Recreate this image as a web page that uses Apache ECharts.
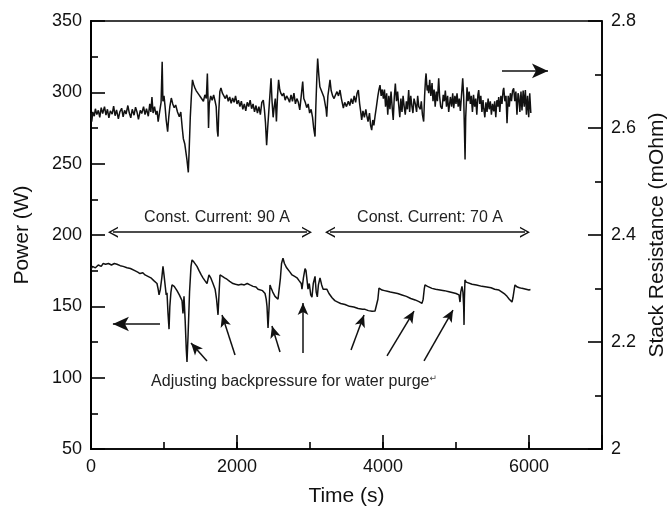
<!DOCTYPE html>
<html>
<head>
<meta charset="utf-8">
<script src="https://cdn.jsdelivr.net/npm/echarts@6/dist/echarts.min.js"></script>
<style>html,body{margin:0;padding:0;background:#fff}#c{width:669px;height:509px}</style>
</head>
<body>
<div id="c"></div>
<script>
// ---- DATA ----
const xTicks = [0, 2000, 4000, 6000];
const powerTicks = [50, 100, 150, 200, 250, 300, 350];
const resTicks = [2, 2.2, 2.4, 2.6, 2.8];

// Power (W) vs time (s)
const powerData = [
[0,176],[20,178],[60,177],[100,179],[140,178],[165,180],[200,179.5],[240,180],[280,179],[320,180],
[356,179.5],[400,178.5],[440,178],[493,177],[540,176.5],[600,175],[640,174],[671,173],[710,173.5],[740,172],
[780,171],[820,170],[860,168],[904,166],[920,162],[932,158],[950,162],[970,170],[986,178],[1000,172],
[1015,165],[1030,158],[1041,159.5],[1055,145],[1069,134],[1080,150],[1095,160],[1110,165],[1140,164],[1178,161],
[1210,158],[1247,154],[1260,145],[1274,157],[1290,140],[1305,120],[1315,111],[1330,130],[1350,160],[1370,178],
[1384,182.5],[1410,181],[1430,180],[1452,178],[1480,175],[1510,172],[1534,170],[1560,168],[1589,166],[1616,172],
[1640,170],[1671,166],[1700,162],[1720,155],[1740,144],[1755,160],[1767,172],[1800,171],[1830,170],[1862,169],
[1900,167.5],[1945,166],[1980,165.5],[2020,165],[2060,165.5],[2100,165],[2140,166],[2178,165],[2220,164],[2260,163.5],
[2288,162],[2315,163],[2350,161],[2384,159],[2400,155],[2411,150],[2425,134.8],[2440,150],[2452,165],[2466,163],
[2490,160],[2521,157],[2545,158],[2562,155],[2576,156],[2595,170],[2610,180],[2630,183.8],[2650,180],[2680,177],
[2726,174],[2754,172],[2790,171],[2822,170],[2850,168],[2880,166],[2890,162],[2910,170],[2932,176.5],[2945,175],
[2960,168],[2973,162],[2990,166],[3010,158],[3027,156.5],[3045,166],[3069,171],[3085,160],[3100,156.6],[3115,165],
[3137,170],[3160,165],[3180,162],[3206,161],[3230,162],[3260,159],[3302,156],[3340,154],[3380,153],[3420,152],
[3480,151.3],[3540,150],[3600,149.5],[3660,148.5],[3720,148],[3754,147.9],[3800,147],[3850,146.5],[3891,146.7],[3915,148],
[3930,155],[3945,162.8],[3970,162],[3987,161.4],[4020,161],[4060,160.5],[4100,160],[4150,159.5],[4200,159],[4260,158],
[4320,157],[4380,155.5],[4440,154.5],[4493,153.3],[4534,152.1],[4550,155],[4565,162],[4575,165],[4610,164],[4671,162.6],
[4720,162],[4780,161.5],[4840,161],[4904,160.2],[4960,159.5],[5000,159],[5041,158],[5055,153],[5065,160],[5082,164],
[5095,160],[5105,150],[5110,137],[5115,155],[5123,168.5],[5140,167],[5164,166],[5220,165.5],[5280,165],[5356,164],
[5420,163.5],[5480,163],[5530,162],[5589,161.4],[5630,160],[5670,158.5],[5699,157],[5730,155],[5767,153],[5780,156],
[5795,161],[5808,165],[5840,163.5],[5870,163],[5904,162.6],[5930,163],[5960,162],[5980,162.5],[6000,161.5],[6020,161.8]
];

// Stack resistance (mOhm) vs time (s)
const resistanceData = [
[0,2.628],[10,2.612],[25,2.630],[45,2.622],[60,2.636],[80,2.625],[100,2.633],[120,2.620],[140,2.638],[160,2.627],
[185,2.640],[205,2.624],[225,2.635],[245,2.619],[265,2.632],[290,2.626],[310,2.641],[330,2.623],[350,2.634],[375,2.617],
[395,2.630],[420,2.637],[440,2.621],[460,2.633],[480,2.626],[505,2.642],[525,2.628],[545,2.619],[565,2.635],[590,2.624],
[610,2.639],[630,2.630],[650,2.616],[675,2.633],[695,2.627],[720,2.640],[740,2.625],[760,2.636],[785,2.622],[805,2.645],
[820,2.630],[835,2.658],[850,2.628],[870,2.640],[890,2.625],[905,2.632],[920,2.612],[940,2.630],[960,2.648],[975,2.724],
[985,2.650],[1000,2.660],[1015,2.640],[1030,2.615],[1050,2.593],[1065,2.620],[1080,2.640],[1100,2.656],[1120,2.645],[1140,2.638],
[1160,2.643],[1185,2.630],[1210,2.621],[1230,2.630],[1250,2.600],[1265,2.580],[1285,2.570],[1300,2.555],[1315,2.540],[1333,2.517],
[1345,2.560],[1360,2.620],[1375,2.660],[1390,2.690],[1405,2.682],[1420,2.676],[1440,2.670],[1460,2.672],[1480,2.662],[1500,2.658],
[1520,2.655],[1540,2.650],[1560,2.662],[1580,2.655],[1594,2.702],[1602,2.660],[1610,2.600],[1620,2.645],[1640,2.660],[1660,2.652],
[1680,2.662],[1700,2.650],[1715,2.640],[1730,2.595],[1740,2.584],[1750,2.630],[1765,2.668],[1780,2.675],[1800,2.665],[1820,2.660],
[1840,2.655],[1860,2.662],[1880,2.650],[1900,2.658],[1920,2.646],[1940,2.656],[1960,2.648],[1980,2.660],[2000,2.645],[2020,2.652],
[2040,2.640],[2060,2.650],[2080,2.635],[2100,2.645],[2120,2.632],[2140,2.648],[2160,2.640],[2180,2.652],[2200,2.636],[2220,2.645],
[2240,2.630],[2260,2.642],[2280,2.628],[2300,2.640],[2320,2.625],[2340,2.648],[2360,2.652],[2375,2.635],[2390,2.610],[2406,2.568],
[2420,2.600],[2440,2.640],[2455,2.670],[2466,2.693],[2480,2.650],[2495,2.620],[2510,2.640],[2525,2.655],[2540,2.612],[2555,2.660],
[2570,2.690],[2585,2.672],[2600,2.665],[2620,2.660],[2640,2.665],[2660,2.652],[2680,2.660],[2700,2.655],[2720,2.648],[2740,2.662],
[2760,2.650],[2780,2.665],[2800,2.645],[2820,2.655],[2840,2.648],[2860,2.634],[2880,2.660],[2900,2.687],[2915,2.655],[2935,2.648],
[2955,2.638],[2975,2.645],[2995,2.628],[3015,2.635],[3035,2.620],[3050,2.600],[3069,2.584],[3080,2.640],[3095,2.700],[3105,2.730],
[3120,2.700],[3135,2.677],[3150,2.680],[3170,2.665],[3190,2.658],[3206,2.660],[3220,2.635],[3229,2.621],[3245,2.660],[3260,2.675],
[3274,2.690],[3290,2.670],[3310,2.660],[3330,2.655],[3350,2.662],[3370,2.668],[3390,2.660],[3411,2.671],[3430,2.655],[3457,2.637],
[3475,2.648],[3500,2.640],[3525,2.650],[3545,2.642],[3565,2.655],[3585,2.645],[3605,2.660],[3625,2.648],[3645,2.665],[3662,2.671],
[3680,2.645],[3695,2.630],[3708,2.615],[3725,2.632],[3745,2.620],[3765,2.635],[3777,2.624],[3795,2.612],[3815,2.628],[3830,2.605],
[3845,2.596],[3860,2.615],[3875,2.605],[3891,2.622],[3910,2.640],[3930,2.660],[3945,2.672],[3959,2.680],[3975,2.660],[3990,2.672],
[4005,2.655],[4020,2.672],[4035,2.640],[4050,2.665],[4065,2.625],[4080,2.660],[4095,2.635],[4110,2.668],[4125,2.640],[4140,2.615],
[4155,2.658],[4169,2.683],[4185,2.650],[4200,2.668],[4215,2.643],[4230,2.620],[4245,2.655],[4260,2.630],[4275,2.660],[4290,2.640],
[4305,2.625],[4320,2.650],[4335,2.635],[4352,2.671],[4365,2.630],[4380,2.660],[4395,2.642],[4410,2.628],[4425,2.655],[4443,2.645],
[4460,2.630],[4475,2.660],[4490,2.640],[4511,2.635],[4525,2.650],[4540,2.625],[4557,2.612],[4570,2.660],[4582,2.690],[4590,2.702],
[4605,2.670],[4615,2.680],[4626,2.665],[4640,2.690],[4655,2.660],[4672,2.684],[4685,2.650],[4700,2.672],[4715,2.640],[4730,2.668],
[4745,2.650],[4763,2.693],[4775,2.660],[4790,2.640],[4809,2.636],[4825,2.662],[4840,2.650],[4854,2.670],[4870,2.640],[4885,2.660],
[4900,2.630],[4923,2.658],[4940,2.640],[4955,2.665],[4969,2.637],[4985,2.660],[5000,2.645],[5014,2.665],[5030,2.640],[5045,2.655],
[5060,2.632],[5075,2.660],[5092,2.693],[5105,2.660],[5115,2.600],[5124,2.541],[5133,2.620],[5151,2.676],[5165,2.650],[5180,2.668],
[5197,2.645],[5210,2.660],[5225,2.630],[5240,2.662],[5255,2.640],[5270,2.655],[5285,2.625],[5300,2.662],[5311,2.671],[5325,2.645],
[5340,2.660],[5355,2.630],[5370,2.652],[5380,2.637],[5395,2.620],[5410,2.648],[5425,2.630],[5440,2.655],[5455,2.635],[5470,2.650],
[5485,2.625],[5500,2.645],[5517,2.631],[5530,2.650],[5545,2.620],[5560,2.652],[5575,2.640],[5585,2.658],[5600,2.630],[5615,2.660],
[5630,2.645],[5645,2.670],[5654,2.675],[5670,2.650],[5685,2.660],[5699,2.609],[5715,2.660],[5730,2.640],[5745,2.665],[5760,2.650],
[5775,2.670],[5790,2.674],[5805,2.650],[5820,2.668],[5835,2.625],[5850,2.665],[5859,2.660],[5875,2.630],[5890,2.668],[5904,2.633],
[5920,2.670],[5935,2.640],[5950,2.671],[5965,2.625],[5980,2.660],[5996,2.620],[6010,2.665],[6025,2.628]
];

// Annotation arrows (data coordinates: time, power)
const purgeArrows = [
  [[1589,111.7],[1370,124.3]],
  [[1973,115.9],[1795,143.9]],
  [[2589,118.0],[2479,136.2]],
  [[2904,117.3],[2904,152.3]],
  [[3562,119.4],[3740,143.9]],
  [[4055,115.2],[4425,146.7]],
  [[4562,111.7],[4959,147.4]]
];
const spanArrows = [
  [[301,202],[2959,202]],
  [[3274,202],[5945,202]]
];
const axisArrows = [
  [[945,137.6],[300,137.6]],
  [[5630,315],[6260,315]]
];
const annotationTexts = [
  {text:'Const. Current: 90 A', at:[1726,211.9]},
  {text:'Const. Current: 70 A', at:[4644,211.9]}
];
const purgeText = {text:'Adjusting backpressure for water purge', at:[2781,97.1]};

// ---- CHART ----
const FONT = '"Liberation Sans", Arial, "DejaVu Sans", sans-serif';
const chevron = 'path://M0,10 L5,0 L10,10 L8.6,10 L5,2.8 L1.4,10 Z';
const markLines = [];
purgeArrows.forEach(a => markLines.push([
  {coord:a[0], symbol:'none'},
  {coord:a[1], symbol:'arrow', symbolSize:[8,12]}
]));
spanArrows.forEach(a => markLines.push([
  {coord:a[0], symbol:chevron, symbolSize:[11,10]},
  {coord:a[1], symbol:chevron, symbolSize:[11,10]}
]));
axisArrows.forEach(a => markLines.push([
  {coord:a[0], symbol:'none'},
  {coord:a[1], symbol:'arrow', symbolSize:[11,16]}
]));

const markPoints = annotationTexts.map(t => ({
  coord:t.at, symbol:'circle', symbolSize:1, itemStyle:{color:'rgba(0,0,0,0)'},
  label:{show:true, position:'inside', formatter:t.text, color:'#222', fontSize:16, fontFamily:FONT}
}));
markPoints.push({
  coord:purgeText.at, symbol:'circle', symbolSize:1, itemStyle:{color:'rgba(0,0,0,0)'},
  label:{show:true, position:'inside', formatter:'{a|' + purgeText.text + '}{b|\u21B5}',
    rich:{a:{color:'#222', fontSize:16, fontFamily:FONT}, b:{color:'#444', fontSize:9, fontFamily:'"DejaVu Sans", sans-serif', verticalAlign:'top'}}}
});

const tickLabel = () => ({color:'#111', fontSize:18, fontFamily:FONT});
const nameStyle = () => ({color:'#111', fontSize:21, fontFamily:FONT});

const chart = echarts.init(document.getElementById('c'), null, {renderer:'canvas'});
chart.setOption({
  animation:false,
  backgroundColor:'#fff',
  grid:{left:91, right:67, top:21, bottom:60, containLabel:false, outerBoundsMode:'none',
    show:true, borderColor:'#000', borderWidth:1.6, backgroundColor:'transparent'},
  xAxis:[{
    type:'value', min:0, max:7000, interval:1000,
    name:'Time (s)', nameLocation:'middle', nameGap:37, nameTextStyle:nameStyle(),
    axisLine:{show:true, lineStyle:{color:'#000', width:1.6}},
    axisTick:{show:true, inside:true, length:7, lineStyle:{color:'#000', width:1.6}},
    axisLabel:Object.assign({margin:9, formatter:v => xTicks.indexOf(v) >= 0 ? String(v) : ''}, tickLabel()),
    splitLine:{show:false}
  },{
    type:'value', min:0, max:7000, interval:2000, position:'bottom',
    axisLine:{show:false}, axisLabel:{show:false}, splitLine:{show:false},
    axisTick:{show:true, inside:true, length:14, lineStyle:{color:'#000', width:1.6}}
  }],
  yAxis:[{
    type:'value', min:50, max:350, interval:50, position:'left',
    name:'Power (W)', nameLocation:'middle', nameGap:58, nameRotate:90, nameTextStyle:nameStyle(),
    axisLine:{show:true, lineStyle:{color:'#000', width:1.6}},
    axisTick:{show:false}, minorTick:{show:false},
    axisLabel:Object.assign({margin:9, formatter:v => powerTicks.indexOf(v) >= 0 ? String(v) : ''}, tickLabel()),
    splitLine:{show:false}
  },{
    type:'value', min:2, max:2.8, interval:0.2, position:'right',
    name:'Stack Resistance (mOhm)', nameLocation:'middle', nameGap:44, nameRotate:90, nameTextStyle:nameStyle(),
    axisLine:{show:true, lineStyle:{color:'#000', width:1.6}},
    axisTick:{show:false}, minorTick:{show:false},
    axisLabel:Object.assign({margin:9, formatter:v => {
      const r = Math.round(v*10)/10; return resTicks.indexOf(r) >= 0 ? String(r) : ''; }}, tickLabel()),
    splitLine:{show:false}
  },{
    // tick-only companion of the power axis
    type:'value', min:50, max:350, interval:50, position:'left',
    axisLine:{show:true, lineStyle:{color:'#000', width:1.6}},
    axisTick:{show:true, inside:true, length:14, lineStyle:{color:'#000', width:1.6}},
    minorTick:{show:true, splitNumber:2, length:7, lineStyle:{color:'#000', width:1.6}},
    axisLabel:{show:true, color:'rgba(0,0,0,0)'},
    splitLine:{show:false}
  },{
    // tick-only companion of the resistance axis
    type:'value', min:2, max:2.8, interval:0.2, position:'right',
    axisLine:{show:true, lineStyle:{color:'#000', width:1.6}},
    axisTick:{show:true, inside:true, length:14, lineStyle:{color:'#000', width:1.6}},
    minorTick:{show:true, splitNumber:2, length:7, lineStyle:{color:'#000', width:1.6}},
    axisLabel:{show:true, color:'rgba(0,0,0,0)'},
    splitLine:{show:false}
  }],
  series:[{
    name:'Power', type:'line', xAxisIndex:0, yAxisIndex:0, data:powerData,
    showSymbol:false, symbol:'none', lineStyle:{color:'#111', width:1.5}, silent:true,
    markLine:{silent:true, animation:false, label:{show:false}, lineStyle:{color:'#111', width:1.5, type:'solid'},
      emphasis:{disabled:true}, data:markLines},
    markPoint:{silent:true, animation:false, data:markPoints}
  },{
    name:'Stack Resistance', type:'line', xAxisIndex:0, yAxisIndex:1, data:resistanceData,
    showSymbol:false, symbol:'none', lineStyle:{color:'#111', width:1.5}, silent:true
  }]
});
</script>
</body>
</html>
